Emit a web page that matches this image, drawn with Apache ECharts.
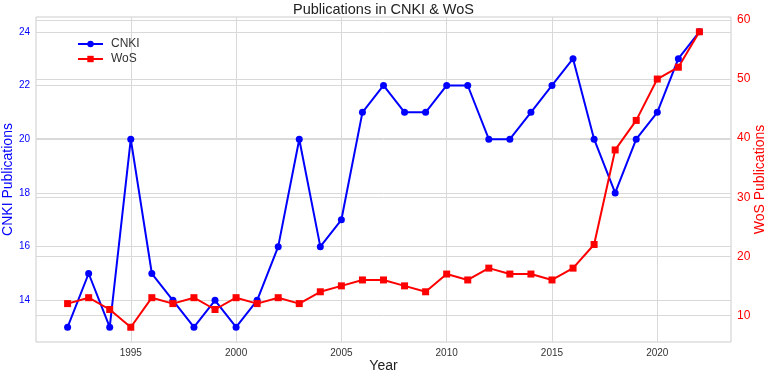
<!DOCTYPE html>
<html>
<head>
<meta charset="utf-8">
<script src="https://cdn.jsdelivr.net/npm/echarts@6/dist/echarts.min.js"></script>
<style>
html, body { margin: 0; padding: 0; background: #fff; }
#main { width: 767px; height: 372px; }
</style>
</head>
<body>
<div id="main"></div>
<script>
var chartDom = document.getElementById('main');
var myChart = echarts.init(chartDom);
var option;

// data
var years = [1992, 1993, 1994, 1995, 1996, 1997, 1998, 1999, 2000, 2001, 2002, 2003, 2004, 2005, 2006, 2007,
  2008, 2009, 2010, 2011, 2012, 2013, 2014, 2015, 2016, 2017, 2018, 2019, 2020, 2021, 2022];
var cnki = [13, 15, 13, 20, 15, 14, 13, 14, 13, 14, 16, 20, 16, 17, 21, 22,
  21, 21, 22, 22, 20, 20, 21, 22, 23, 20, 18, 20, 21, 23, 24];
var wos = [12, 13, 11, 8, 13, 12, 13, 11, 13, 12, 13, 12, 14, 15, 16, 16,
  15, 14, 17, 16, 18, 17, 17, 16, 18, 22, 38, 43, 50, 52, 58];
var yearTicks = [1995, 2000, 2005, 2010, 2015, 2020];
var cnkiTicks = [14, 16, 18, 20, 22, 24];
var wosTicks = [10, 20, 30, 40, 50, 60];

function pairs(xs, ys) {
  return xs.map(function (x, i) { return [x, ys[i]]; });
}

var font = 'Liberation Sans, Arial, sans-serif';
var gridLine = { show: true, lineStyle: { color: '#d9d9d9', width: 1 } };

option = {
  animation: false,
  textStyle: { fontFamily: font },
  title: {
    text: 'Publications in CNKI & WoS',
    left: 'center',
    top: -3,
    textStyle: { fontSize: 14.5, fontWeight: 'normal', color: '#222', fontFamily: font }
  },
  legend: {
    orient: 'vertical',
    left: 72,
    top: 33,
    itemWidth: 25,
    itemHeight: 8,
    itemGap: 3,
    textStyle: { fontSize: 12, color: '#333', padding: [0, 0, 0, 3] },
    data: ['CNKI', 'WoS']
  },
  grid: {
    left: 36, right: 36, top: 17, bottom: 30,
    outerBoundsMode: 'none',
    containLabel: false,
    show: true, borderColor: '#cccccc', borderWidth: 1
  },
  xAxis: {
    type: 'value',
    min: 1990.5,
    max: 2023.5,
    name: 'Year',
    nameLocation: 'middle',
    nameGap: 17,
    nameMoveOverlap: false,
    nameTextStyle: { fontSize: 14, color: '#222' },
    axisLine: { show: false },
    axisTick: { show: false, customValues: yearTicks },
    axisLabel: {
      customValues: yearTicks, fontSize: 10, color: '#333', margin: 6,
      formatter: function (v) { return String(v); }
    },
    splitLine: gridLine
  },
  yAxis: [
    {
      type: 'value',
      min: 12.45,
      max: 24.55,
      name: 'CNKI Publications',
      nameLocation: 'middle',
      nameRotate: 90,
      nameGap: 21,
      nameMoveOverlap: false,
      nameTextStyle: { fontSize: 14, color: '#0000ff' },
      axisLine: { show: false },
      axisTick: { show: false, customValues: cnkiTicks },
      axisLabel: { customValues: cnkiTicks, fontSize: 10, color: '#0000ff', margin: 6 },
      splitLine: gridLine
    },
    {
      type: 'value',
      position: 'right',
      min: 5.5,
      max: 60.5,
      name: 'WoS Publications',
      nameLocation: 'middle',
      nameRotate: 90,
      nameGap: 22,
      nameMoveOverlap: false,
      nameTextStyle: { fontSize: 14, color: '#ff0000' },
      axisLine: { show: false },
      axisTick: { show: false, customValues: wosTicks },
      axisLabel: { customValues: wosTicks, fontSize: 12, color: '#ff0000', margin: 6 },
      splitLine: gridLine
    }
  ],
  series: [
    {
      name: 'CNKI',
      type: 'line',
      yAxisIndex: 0,
      data: pairs(years, cnki),
      symbol: 'circle',
      symbolSize: 7,
      lineStyle: { color: '#0000ff', width: 2 },
      itemStyle: { color: '#0000ff' }
    },
    {
      name: 'WoS',
      type: 'line',
      yAxisIndex: 1,
      data: pairs(years, wos),
      symbol: 'rect',
      symbolSize: 7,
      lineStyle: { color: '#ff0000', width: 2 },
      itemStyle: { color: '#ff0000' }
    }
  ]
};

option && myChart.setOption(option);
</script>
</body>
</html>
